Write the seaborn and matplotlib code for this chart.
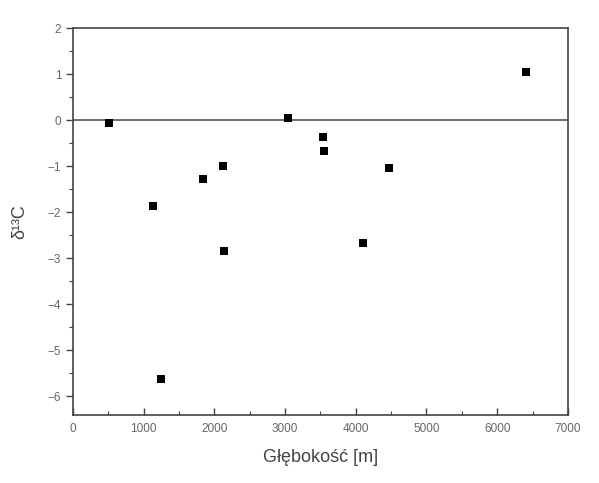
"""Delta 13C versus depth scatter."""

import matplotlib

matplotlib.use("Agg")

import matplotlib.pyplot as plt
import pandas as pd
import seaborn as sns
from matplotlib.ticker import MultipleLocator

depth_m = [514, 3046, 3541, 3555, 2126, 1843, 4470, 6403, 1136, 2140, 4107, 1240]
delta_c = [-0.06, 0.04, -0.36, -0.67, -0.99, -1.28, -1.05, 1.05, -1.86, -2.85, -2.66, -5.63]

x_ticks = [0, 1000, 2000, 3000, 4000, 5000, 6000, 7000]
y_ticks = [2, 1, 0, -1, -2, -3, -4, -5, -6]

df = pd.DataFrame({"depth": depth_m, "delta": delta_c})

sns.set_style("ticks")
plt.rcParams["font.family"] = ["Liberation Sans", "DejaVu Sans"]

fig = plt.figure(figsize=(5.99, 4.83), dpi=100)
ax = fig.add_axes([0.122, 0.141, 0.826, 0.801])

ax.axhline(0, color="#555555", linewidth=1.2, zorder=1)
sns.scatterplot(data=df, x="depth", y="delta", marker="s", color="black",
                s=32, edgecolor="black", linewidth=0, ax=ax, zorder=3)

ax.set_xlim(0, 7000)
ax.set_ylim(-6.4, 2)
ax.set_xticks(x_ticks)
ax.set_yticks(y_ticks)
ax.xaxis.set_minor_locator(MultipleLocator(500))
ax.yaxis.set_minor_locator(MultipleLocator(0.5))
ax.tick_params(axis="x", which="both", direction="in", labelsize=8.5, labelcolor="#666666", pad=6)
ax.tick_params(axis="y", which="both", direction="out", labelsize=8.5, labelcolor="#666666")
ax.tick_params(which="major", length=5, width=1, color="#444444")
ax.tick_params(which="minor", length=3, width=0.8, color="#444444")

for spine in ax.spines.values():
    spine.set_visible(True)
    spine.set_linewidth(1.2)
    spine.set_color("#444444")

ax.set_xlabel("Głębokość [m]", fontsize=13, color="#444444", labelpad=10)
ax.set_ylabel("δ¹³C", fontsize=13, color="#444444", labelpad=14)

fig.savefig("out.png", dpi=100)
